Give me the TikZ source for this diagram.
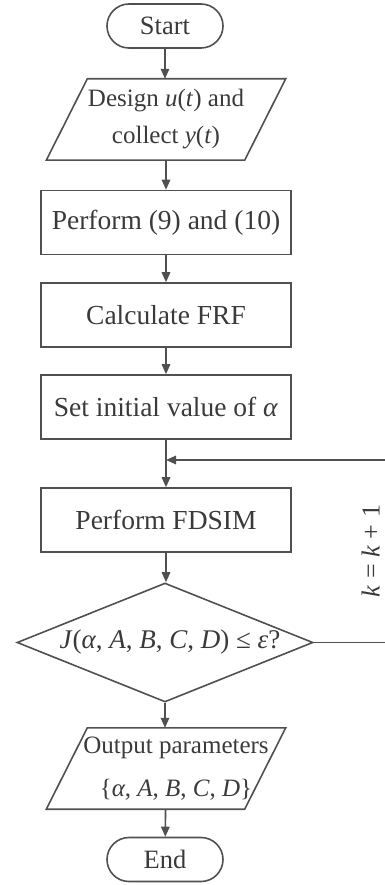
\documentclass[tikz,border=0pt]{standalone}
\usepackage{fontspec}
\setmainfont{Liberation Serif}
\usetikzlibrary{arrows.meta,shapes.misc,shapes.geometric}
\definecolor{linec}{HTML}{505050}
\definecolor{textc}{HTML}{3A3A3A}
\newcommand{\mv}[1]{\textit{#1}}
\tikzset{
  line/.style={draw=linec,line width=1.6pt},
  arr/.style={line,-{Triangle[length=10pt,width=8.5pt]}},
  txt/.style={text=textc,inner sep=0pt},
  term/.style={txt,rounded rectangle,draw=linec,line width=1.6pt,minimum width=116pt,minimum height=44pt,font=\fontsize{26.5}{30}\selectfont},
  procbox/.style={txt,rectangle,draw=linec,line width=1.6pt,minimum width=250pt,minimum height=64pt,font=\fontsize{27.5}{32}\selectfont},
  plbox/.style={txt,rectangle,minimum width=198pt,minimum height=81pt,align=center},
  decbox/.style={diamond,draw=linec,line width=1.6pt,minimum width=296pt,minimum height=119pt,inner sep=0pt}
}
\begin{document}
\begin{tikzpicture}[x=1pt,y=-1pt]
\useasboundingbox (0,0) rectangle (385,885);
\node[term] (start) at (165,26) {Start};
\node[plbox,font=\fontsize{25}{39}\selectfont] (p1) at (166,119.5) {Design \mv{u}(\mv{t}) and\\[-2pt]collect \mv{y}(\mv{t})};
\draw[line] ([xshift=20.5pt]p1.north west) -- ([xshift=20.5pt]p1.north east) -- ([xshift=-20.5pt]p1.south east) -- ([xshift=-20.5pt]p1.south west) -- cycle;
\node[procbox] (b1) at (166,222.5) {Perform (9) and (10)};
\node[procbox] (b2) at (166,315) {Calculate FRF};
\node[procbox] (b3) at (166,407) {Set initial value of \mv{α}};
\coordinate (join) at (166,460);
\node[procbox] (b4) at (166,520) {Perform FDSIM};
\node[decbox] (dec) at (165,642.5) {};
\node[txt,font=\fontsize{27}{31}\selectfont] (dect) at (170,642) {\mv{J}(\mv{α}, \mv{A}, \mv{B}, \mv{C}, \mv{D}) ≤ \mv{ε}?};
\node[plbox,font=\fontsize{25}{42}\selectfont] (p2) at (166,768.5) {};
\node[txt,align=center,font=\fontsize{25}{43}\selectfont] (p2t) at (176,768.5) {Output parameters\\\{\mv{α}, \mv{A}, \mv{B}, \mv{C}, \mv{D}\}};
\draw[line] ([xshift=20.5pt]p2.north west) -- ([xshift=20.5pt]p2.north east) -- ([xshift=-20.5pt]p2.south east) -- ([xshift=-20.5pt]p2.south west) -- cycle;
\node[term] (end) at (165,859.5) {End};
\coordinate (r1) at (392,642.5);
\coordinate (r2) at (392,460);
\node[txt,rotate=90,font=\fontsize{26}{30}\selectfont] (klab) at (370.5,551) {\mv{k} = \mv{k} + 1};
\draw[arr] (start) -- (start|-p1.north);
\draw[arr] (p1) -- (b1);
\draw[arr] (b1) -- (b2);
\draw[arr] (b2) -- (b3);
\draw[arr] (b3) -- (b4);
\draw[arr] (b4) -- (b4|-dec.north);
\draw[arr] (dec) -- (dec|-p2.north);
\draw[arr] (p2) -- (end);
\draw[arr] (dec.east) -- (r1) -- (r2) -- (join);
\end{tikzpicture}
\end{document}
